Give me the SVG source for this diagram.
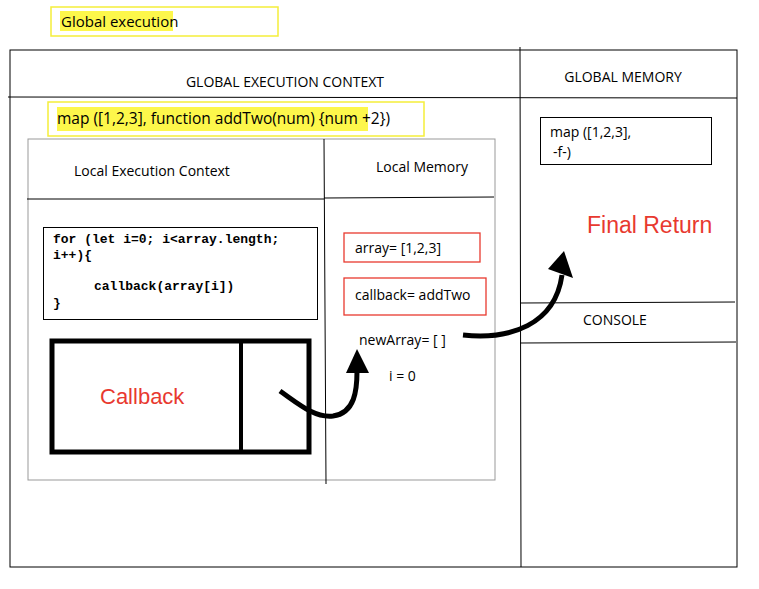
<svg xmlns="http://www.w3.org/2000/svg" width="759" height="589" viewBox="0 0 759 589">
<style>
text{font-family:"Open Sans","Liberation Sans",sans-serif;font-size:14px;fill:#000}
.mono{font-family:"Liberation Mono",monospace;font-weight:bold;font-size:13px}
.red{fill:#e8392f;font-family:"Liberation Sans",Arial,sans-serif}
.ln{stroke:#000;stroke-width:1;fill:none}
.gray{stroke:#999;stroke-width:1;fill:none}
.ybox{fill:none;stroke:#f5ee3a;stroke-width:1.5}
.rbox{fill:none;stroke:#e8392f;stroke-width:1.3}
.arr{fill:none;stroke:#000;stroke-width:5}
</style>
<rect width="759" height="589" fill="#fff"/>
<g id="title">
<rect class="ybox" x="51" y="7" width="227" height="29"/>
<rect x="60" y="11" width="113" height="20" fill="#fdf74b"/>
<text x="61" y="27" style="font-size:15px">Global execution</text>
</g>
<g id="global-context">
<rect class="ln" x="10" y="50" width="727" height="517"/>
<line class="ln" x1="520" y1="47" x2="521" y2="567"/>
<line class="ln" x1="8" y1="97" x2="737" y2="98"/>
<text x="285" y="87" text-anchor="middle">GLOBAL EXECUTION CONTEXT</text>
<text x="623" y="82" text-anchor="middle">GLOBAL MEMORY</text>
</g>
<g id="map-call">
<rect class="ybox" x="48" y="102" width="376" height="34"/>
<rect x="57" y="107" width="311" height="24" fill="#fdf74b"/>
<text x="57" y="124" style="font-size:15.5px">map ([1,2,3], function addTwo(num) {num +2})</text>
</g>
<g id="local-context">
<rect class="gray" x="28" y="139" width="467" height="341"/>
<line class="ln" x1="324" y1="139" x2="326" y2="484"/>
<line class="ln" x1="27" y1="199" x2="324" y2="199"/>
<line class="ln" x1="324" y1="198" x2="494" y2="197"/>
<text x="74" y="176">Local Execution Context</text>
<text x="376" y="172">Local Memory</text>
</g>
<g id="code">
<rect class="ln" x="43.5" y="227.5" width="274" height="92"/>
<text class="mono" x="53" y="243">for (let i=0; i&lt;array.length;</text>
<text class="mono" x="53" y="259">i++){</text>
<text class="mono" x="94" y="290">callback(array[i])</text>
<text class="mono" x="53" y="307">}</text>
</g>
<g id="callback">
<rect x="52" y="341" width="257" height="111" fill="none" stroke="#000" stroke-width="5"/>
<line x1="241" y1="341" x2="241" y2="452" stroke="#000" stroke-width="4"/>
<text class="red" x="100" y="404" style="font-size:22px">Callback</text>
</g>
<g id="local-memory">
<rect class="rbox" x="344" y="233" width="136" height="29"/>
<text x="355" y="253">array= [1,2,3]</text>
<rect class="rbox" x="344" y="278" width="142" height="37"/>
<text x="355" y="300">callback= addTwo</text>
<text x="359" y="345">newArray= [ ]</text>
<text x="389" y="381">i = 0</text>
</g>
<g id="global-memory">
<rect class="ln" x="540.5" y="117.5" width="171" height="47"/>
<text x="550" y="137">map ([1,2,3],</text>
<text x="553" y="157">-f-)</text>
<text class="red" x="587" y="233" style="font-size:23px">Final Return</text>
</g>
<g id="console">
<line class="ln" x1="520" y1="303" x2="735" y2="302"/>
<line class="ln" x1="520" y1="343" x2="736" y2="342"/>
<text x="583" y="325">CONSOLE</text>
</g>
<g id="connectors">
<path class="arr" d="M280,391 C300,405 315,418 333,416 C355,413 357,390 357,371"/>
<polygon points="346,373 369,373 357,349"/>
<path class="arr" d="M463,335 C510,340 555,325 562,275"/>
<polygon points="548,269 573,278 564,251"/>
</g>
</svg>
